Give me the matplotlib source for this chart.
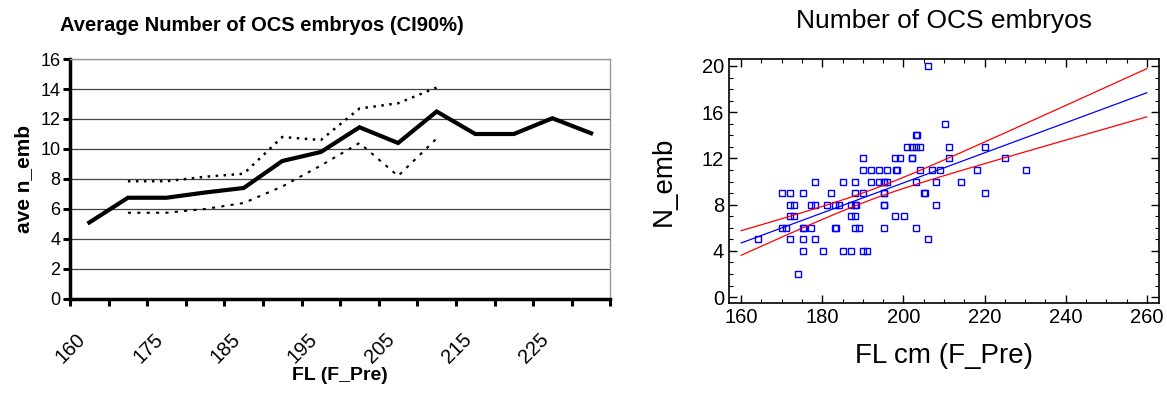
import numpy as np
import matplotlib
matplotlib.use("Agg")
import matplotlib.pyplot as plt
from matplotlib.ticker import MultipleLocator, FixedLocator

# left chart: mean per FL class with 90% CI
fl_classes = [160, 170, 175, 180, 185, 190, 195, 200, 205, 210, 215, 220, 225, 230]
ave_emb = [5.1, 6.75, 6.75, 7.1, 7.4, 9.2, 9.8, 11.45, 10.4, 12.5, 11.0, 11.0, 12.05, 11.05]
ci_upper = [None, 7.85, 7.85, 8.15, 8.35, 10.8, 10.6, 12.7, 13.05, 14.1, None, None, None, None]
ci_lower = [None, 5.75, 5.75, 6.0, 6.4, 7.5, 8.9, 10.4, 8.2, 10.7, None, None, None, None]
shown_labels = ["160", "175", "185", "195", "205", "215", "225"]

# right chart: raw observations
fl_cm = [206.0, 210.2, 203.1, 203.3,
         201.0, 202.0, 203.1, 204.1, 211.2, 220.1,
         190.1, 198.0, 199.1, 202.0, 202.2, 211.3, 225.1,
         190.1, 192.1, 194.1, 196.0, 198.1, 198.3, 204.1, 207.0, 209.1, 218.1, 230.1,
         178.2, 185.1, 188.1, 192.1, 194.1, 195.1, 195.3, 196.0, 203.1, 208.0, 214.2,
         170.1, 172.1, 175.3, 182.2, 188.1, 190.1, 195.1, 195.3, 205.1, 205.3, 220.1,
         172.1, 173.1, 177.2, 178.2, 181.2, 183.2, 184.1, 187.1, 188.1, 188.3, 195.1, 195.3, 208.0,
         172.1, 173.1, 187.1, 188.1, 198.0, 200.1,
         170.1, 171.1, 175.2, 175.4, 177.2, 183.2, 183.4, 188.1, 189.1, 195.1, 203.1,
         164.2, 172.1, 175.3, 178.2, 206.0,
         175.3, 180.2, 185.1, 187.1, 190.1, 191.1,
         174.0]
n_emb = [20, 15, 14, 14,
         13, 13, 13, 13, 13, 13,
         12, 12, 12, 12, 12, 12, 12,
         11, 11, 11, 11, 11, 11, 11, 11, 11, 11, 11,
         10, 10, 10, 10, 10, 10, 10, 10, 10, 10, 10,
         9, 9, 9, 9, 9, 9, 9, 9, 9, 9, 9,
         8, 8, 8, 8, 8, 8, 8, 8, 8, 8, 8, 8, 8,
         7, 7, 7, 7, 7, 7,
         6, 6, 6, 6, 6, 6, 6, 6, 6, 6, 6,
         5, 5, 5, 5, 5,
         4, 4, 4, 4, 4, 4,
         2]

fam = ['Liberation Sans', 'DejaVu Sans']
plt.rcParams['font.family'] = fam

fig = plt.figure(figsize=(11.67, 3.96), dpi=100)

# ---------- left ----------
ax1 = fig.add_axes([0.060, 0.245, 0.463, 0.606])
pos = np.arange(len(fl_classes))
up = np.array([np.nan if v is None else v for v in ci_upper])
lo = np.array([np.nan if v is None else v for v in ci_lower])
ax1.plot(pos, up, color='black', lw=1.8, ls=(0, (1, 2.2)))
ax1.plot(pos, lo, color='black', lw=1.5, ls=(0, (1.5, 3)))
ax1.plot(pos, ave_emb, color='black', lw=3.0, solid_joinstyle='miter')
ax1.set_xlim(-0.5, len(fl_classes) - 0.5)
ax1.set_ylim(0, 16)
ax1.yaxis.set_major_locator(MultipleLocator(2))
ax1.grid(axis='y', color='#444444', lw=0.9)
ax1.set_axisbelow(True)
ax1.xaxis.set_major_locator(FixedLocator(np.arange(-0.5, len(fl_classes), 1.0)))
ax1.xaxis.set_major_formatter(plt.NullFormatter())
ax1.xaxis.set_minor_locator(FixedLocator(pos[::2]))
ax1.set_xticklabels(shown_labels, minor=True, rotation=45, ha='right', fontsize=14.5)
ax1.tick_params(axis='x', which='minor', length=0, pad=22)
ax1.tick_params(axis='x', which='major', length=5, width=2.2, direction='out')
ax1.tick_params(axis='y', length=5, width=2.2, direction='out', pad=2, labelsize=13)
for s in ['left', 'bottom']:
    ax1.spines[s].set_linewidth(2.5)
for s in ['top', 'right']:
    ax1.spines[s].set_color('#999999')
    ax1.spines[s].set_linewidth(1)
ax1.text(0.356, 1.10, 'Average Number of OCS embryos (CI90%)', transform=ax1.transAxes,
         ha='center', va='bottom', fontweight='bold', fontsize=14.5)
ax1.set_xlabel('FL (F_Pre)', fontweight='bold', fontsize=14, labelpad=0)
ax1.set_ylabel('ave n_emb', fontweight='bold', fontsize=15, labelpad=5)

# ---------- right ----------
ax2 = fig.add_axes([0.6247, 0.235, 0.3684, 0.616])
x = np.array(fl_cm)
y = np.array(n_emb, dtype=float)
b, a = np.polyfit(x, y, 1)
n = len(x)
resid = y - (a + b * x)
s = np.sqrt(np.sum(resid ** 2) / (n - 2))
sxx = np.sum((x - x.mean()) ** 2)
xs = np.linspace(160, 260, 200)
fit = a + b * xs
half = 1.661 * s * np.sqrt(1.0 / n + (xs - x.mean()) ** 2 / sxx)  # 90% band
ax2.plot(x, y, ls='none', marker='s', ms=4, mfc='none', mec='#0000ff', mew=1.0)
ax2.plot(xs, fit, color='#0000ff', lw=0.9)
ax2.plot(xs, fit + half, color='#ff0000', lw=0.9)
ax2.plot(xs, fit - half, color='#ff0000', lw=0.9)
ax2.set_xlim(157, 263)
ax2.set_ylim(-0.5, 20.6)
ax2.xaxis.set_major_locator(MultipleLocator(20))
ax2.xaxis.set_minor_locator(MultipleLocator(5))
ax2.yaxis.set_major_locator(MultipleLocator(4))
ax2.yaxis.set_minor_locator(MultipleLocator(1))
ax2.tick_params(which='both', direction='in', top=True, right=True, labelsize=14.5)
ax2.tick_params(which='major', length=6, width=1)
ax2.tick_params(which='minor', length=3, width=0.8)
for sp in ax2.spines.values():
    sp.set_linewidth(1.2)
ax2.set_title('Number of OCS embryos', fontsize=19, pad=22)
ax2.set_xlabel('FL cm (F_Pre)', fontsize=20, labelpad=12)
ax2.set_ylabel('N_emb', fontsize=20, labelpad=18)

fig.savefig('out.png', dpi=100)
